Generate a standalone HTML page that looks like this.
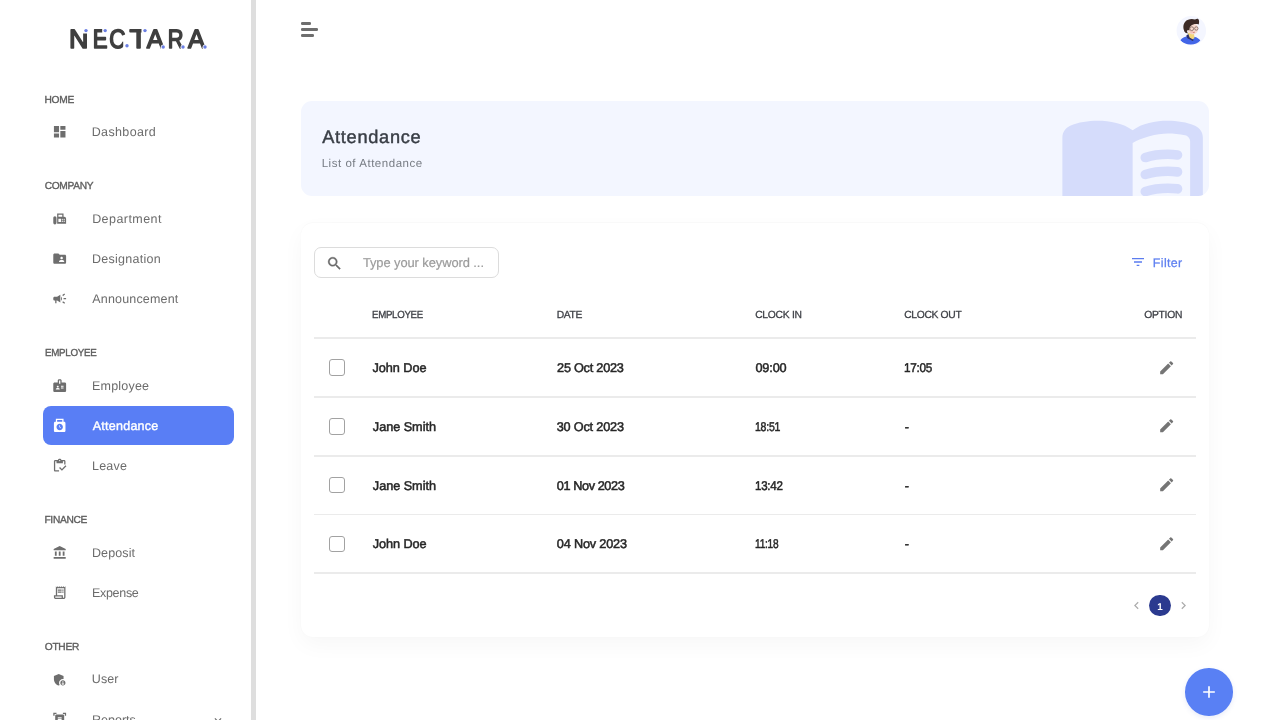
<!DOCTYPE html>
<html lang="en">
<head>
<meta charset="utf-8">
<title>Nectara - Attendance</title>
<style>
*{box-sizing:border-box;margin:0;padding:0}
html,body{width:1280px;height:720px;overflow:hidden;background:#fff;font-family:"Liberation Sans",sans-serif;color:#2a2a2a;text-rendering:geometricPrecision}
svg{display:block}
#wrap{position:absolute;left:0;top:0;width:1280px;height:720px;will-change:transform}
/* ---------- sidebar ---------- */
#sidebar{position:absolute;left:0;top:0;width:251px;height:720px;background:#fff;overflow:hidden}
#sbtrack{position:absolute;left:251px;top:0;width:5px;height:720px;background:#dedede}
#logo{position:absolute;left:66px;top:22px;width:146px;height:34px}
.cap{position:absolute;left:45px;margin-top:2px;transform-origin:0 50%;font-size:10.2px;font-weight:400;color:#5e5e5e;-webkit-text-stroke:.35px #5e5e5e;letter-spacing:0;line-height:12px;text-transform:uppercase;white-space:nowrap}
.nav{position:absolute;left:43px;width:191px;height:39px;border-radius:8px;color:#6c6c6c;font-size:12.5px;line-height:39px;white-space:nowrap}
.nav svg{position:absolute;left:8.8px;top:12.4px;width:15.4px;height:15.4px;fill:#6e6e6e}
.nav span{position:absolute;transform-origin:0 50%;left:49px;top:1.1px;letter-spacing:0}
.nav.on{background:#597ef5;color:#fff}
.nav.on span{-webkit-text-stroke:.4px #fff}
.nav.on svg{fill:#fff}
/* ---------- main ---------- */
#burger i{position:absolute;left:301px;height:2.6px;border-radius:1.3px;background:#6e6e6e}
#avatar{position:absolute;left:1176px;top:16px;width:31px;height:31px}
#banner{position:absolute;left:301px;top:101px;width:908px;height:95px;border-radius:11px;background:#f3f6ff;overflow:hidden}
#banner h1{position:absolute;left:21px;top:24.3px;font-size:18.2px;font-weight:400;color:#393e46;-webkit-text-stroke:.45px #393e46;line-height:24px;white-space:nowrap}
#banner p{position:absolute;left:21px;top:54.9px;font-size:11.5px;color:#777c84;line-height:16px;white-space:nowrap}
#book{position:absolute;left:755.1px;top:-8.9px;width:153.3px;height:153.3px;fill:#d5dcfb}
#card{position:absolute;left:301px;top:223px;width:908px;height:414px;border-radius:12px;background:#fff;box-shadow:0 -1px 2px rgba(0,0,0,.025),0 0 2px rgba(0,0,0,.04),0 8px 22px rgba(0,0,0,.035)}
#search{position:absolute;left:13px;top:24px;width:185px;height:31px;border:1px solid #dcdcdc;border-radius:7px}
#search svg{position:absolute;left:11px;top:6.5px;width:17px;height:17px;fill:#6a6a6a;stroke:#6a6a6a;stroke-width:.5px}
#search span{position:absolute;left:47px;top:0;line-height:29px;font-size:12.9px;color:#9b9b9b;-webkit-text-stroke:.2px #9b9b9b;white-space:nowrap}
#filter{position:absolute;left:828px;top:32px;height:17px;white-space:nowrap}
#filter svg{position:absolute;left:.8px;top:-.6px;width:16px;height:16px;fill:#5b7cef}
#filter span{position:absolute;left:24px;top:0;font-size:12.4px;font-weight:400;color:#5f80f0;-webkit-text-stroke:.25px #5f80f0;line-height:17px}
.th{position:absolute;transform-origin:0 50%;top:86.5px;font-size:10.3px;font-weight:400;color:#3f4147;-webkit-text-stroke:.3px #3f4147;line-height:12px;letter-spacing:0;white-space:nowrap}
.hr{position:absolute;left:13px;width:882px;height:1.8px;background:#ebebeb}
.td{position:absolute;transform-origin:0 50%;font-size:12.7px;font-weight:400;color:#272727;-webkit-text-stroke:.5px #272727;line-height:16px;letter-spacing:0;white-space:nowrap}
.cb{position:absolute;left:28px;width:16px;height:16.6px;border:1px solid #a2a2a2;border-radius:3px;background:#fff}
.pen{position:absolute;left:857.2px;width:17.4px;height:17.4px;fill:#757575}
#pg1{position:absolute;left:848.2px;top:371.600px;width:21.8px;height:21.8px;border-radius:50%;background:#2b3a8f;color:#fff;font-size:9.8px;font-weight:700;line-height:25.2px;text-align:center;overflow:hidden}
.chev{position:absolute;top:374.8px;width:15px;height:15px;fill:#adadad}
#fab{position:absolute;left:1185.2px;top:668.400px;width:47.5px;height:47.5px;border-radius:50%;background:#5980f4;box-shadow:0 2px 5px rgba(70,100,200,.12)}
#fab svg{position:absolute;left:13.75px;top:13.75px;width:20px;height:20px;fill:#fff}
/*FIT*/
#n_dashboard{letter-spacing:0.373px;margin-left:-0.34px}
#n_department{letter-spacing:0.437px;margin-left:0.17px}
#n_designation{letter-spacing:0.265px;margin-left:0.00px}
#n_announcement{letter-spacing:0.161px;margin-left:0.37px}
#n_employee{letter-spacing:0.202px;margin-left:0.00px}
#n_attendance{letter-spacing:0.250px;margin-left:0.75px}
#n_leave{letter-spacing:0.204px;margin-left:0.00px}
#n_deposit{letter-spacing:0.117px;margin-left:-0.04px}
#n_expense{letter-spacing:-0.306px;margin-left:-0.04px}
#n_user{letter-spacing:0.058px;margin-left:-0.20px}
#c_home{letter-spacing:-0.268px;margin-left:-0.51px}
#c_company{letter-spacing:-0.314px;margin-left:-0.35px}
#c_employee{letter-spacing:-0.300px;margin-left:-0.38px;transform:scaleX(0.9586)}
#c_finance{letter-spacing:-0.305px;margin-left:-0.56px}
#c_other{letter-spacing:-0.235px;margin-left:-0.32px}
#h_emp{letter-spacing:-0.300px;margin-left:0.22px;transform:scaleX(0.9391)}
#h_date{letter-spacing:-0.281px;margin-left:-0.38px}
#h_in{letter-spacing:-0.257px;margin-left:0.20px}
#h_out{letter-spacing:-0.319px;margin-left:-0.33px}
#h_opt{letter-spacing:-0.247px;margin-left:0.13px}
#d1{letter-spacing:-0.029px;margin-left:0.39px}
#d2{letter-spacing:-0.236px;margin-left:0.07px}
#d3{letter-spacing:-0.133px;margin-left:0.41px}
#d4{letter-spacing:-0.300px;margin-left:-0.10px;transform:scaleX(0.9256)}
#d5{letter-spacing:-0.042px;margin-left:0.87px}
#d6{letter-spacing:-0.175px;margin-left:-0.37px}
#d7{letter-spacing:-0.300px;margin-left:-0.50px;transform:scaleX(0.8303)}
#d8{letter-spacing:0.000px;margin-left:0.19px}
#d9{letter-spacing:-0.042px;margin-left:0.87px}
#d10{letter-spacing:-0.400px;margin-left:-0.22px}
#d11{letter-spacing:-0.300px;margin-left:-0.00px;transform:scaleX(0.9109)}
#d12{letter-spacing:0.000px;margin-left:0.19px}
#d13{letter-spacing:-0.081px;margin-left:0.87px}
#d14{letter-spacing:-0.175px;margin-left:-0.22px}
#d15{letter-spacing:-0.300px;margin-left:-0.37px;transform:scaleX(0.7976)}
#d16{letter-spacing:0.000px;margin-left:0.19px}
#t_title{letter-spacing:0.707px;margin-left:0.25px}
#t_sub{letter-spacing:0.535px;margin-left:-0.33px}
#t_ph{letter-spacing:-0.071px;margin-left:0.88px}
#t_filter{letter-spacing:0.383px;margin-left:-0.21px}
/*ENDFIT*/
</style>
</head>
<body>
<div id="wrap">
<!-- ================= SIDEBAR ================= -->
<div id="sidebar">
  <svg id="logo" viewBox="66 22 146 34" role="img" aria-label="NECTARA"><title>NECTARA</title>
    <text y="47.9" font-family="Liberation Sans, sans-serif" font-size="26.6" fill="#3f3f3f" stroke="#3f3f3f" stroke-width="1.600" stroke-linejoin="round"><tspan x="69" textLength="19.4" lengthAdjust="spacingAndGlyphs">N</tspan><tspan x="92.7" textLength="14.8" lengthAdjust="spacingAndGlyphs">E</tspan><tspan x="109.2" textLength="16.2" lengthAdjust="spacingAndGlyphs">C</tspan><tspan x="129.4" textLength="18.2" lengthAdjust="spacingAndGlyphs">T</tspan><tspan x="146.7" textLength="17" lengthAdjust="spacingAndGlyphs">A</tspan><tspan x="167.7" textLength="15.8" lengthAdjust="spacingAndGlyphs">R</tspan><tspan x="188" textLength="17" lengthAdjust="spacingAndGlyphs">A</tspan></text>
    <g fill="#fff"><rect x="83" y="27" width="6" height="6.5"/><rect x="102.2" y="27" width="6" height="6"/><rect x="123.200" y="41.500" width="5.5" height="8"/><rect x="141.500" y="27" width="7" height="6"/><circle cx="163.600" cy="47.300" r="2.900"/><circle cx="183.400" cy="47.300" r="2.900"/><circle cx="205.400" cy="47.300" r="2.900"/></g>
    <g fill="#6b7fe3"><circle cx="86" cy="30.6" r="1.700"/><circle cx="105.2" cy="30.6" r="1.700"/><circle cx="127" cy="45.8" r="1.700"/><circle cx="145" cy="30.6" r="1.700"/><circle cx="163.2" cy="47" r="1.700"/><circle cx="183" cy="47" r="1.700"/><circle cx="205" cy="47" r="1.700"/></g>
  </svg>
  <div class="cap" id="c_home" style="top:93.0px">HOME</div>
  <div class="cap" id="c_company" style="top:179.0px">COMPANY</div>
  <div class="cap" id="c_employee" style="top:346.0px">EMPLOYEE</div>
  <div class="cap" id="c_finance" style="top:513.0px">FINANCE</div>
  <div class="cap" id="c_other" style="top:640.0px">OTHER</div>
  <div class="nav" style="top:112.0px"><svg viewBox="0 0 24 24"><path d="M3 13h8V3H3v10zm0 8h8v-6H3v6zm10 0h8V11h-8v10zm0-18v6h8V3h-8z"/></svg><span id="n_dashboard">Dashboard</span></div>
  <div class="nav" style="top:198.5px"><svg viewBox="0 0 24 24"><path d="M19 9h-1V4H8v16h14v-8c0-1.660-1.340-3-3-3m-9-3h6v3h-6zm4 11h-4v-5h4zm2 0c-.550 0-1-.450-1-1s.450-1 1-1 1 .450 1 1-.450 1-1 1m0-3c-.550 0-1-.450-1-1s.450-1 1-1 1 .450 1 1-.450 1-1 1m3 3c-.550 0-1-.450-1-1s.450-1 1-1 1 .450 1 1-.450 1-1 1m0-3c-.550 0-1-.450-1-1s.450-1 1-1 1 .450 1 1-.450 1-1 1M4.500 8A2.500 2.500 0 0 0 2 10.500v8a2.500 2.500 0 0 0 5 0v-8A2.500 2.500 0 0 0 4.500 8"/></svg><span id="n_department">Department</span></div>
  <div class="nav" style="top:238.8px"><svg viewBox="0 0 24 24"><path d="M20 6h-8l-2-2H4c-1.100 0-1.990.9-1.990 2L2 18c0 1.100.9 2 2 2h16c1.100 0 2-.9 2-2V8c0-1.100-.9-2-2-2zm-5 3c1.100 0 2 .9 2 2s-.9 2-2 2-2-.9-2-2 .9-2 2-2zm4 8h-8v-1c0-1.330 2.670-2 4-2s4 .670 4 2v1z"/></svg><span id="n_designation">Designation</span></div>
  <div class="nav" style="top:279.1px"><svg viewBox="0 0 24 24"><path d="M18 11v2h4v-2h-4zm-2 6.610c.960.710 2.210 1.650 3.200 2.390.400-.530.800-1.070 1.200-1.600-.990-.740-2.240-1.680-3.200-2.400-.400.540-.800 1.080-1.200 1.610zM20.400 5.600c-.400-.530-.800-1.070-1.200-1.600-.990.740-2.240 1.680-3.200 2.400.400.530.800 1.070 1.200 1.600.960-.720 2.210-1.650 3.200-2.400zM4 9c-1.100 0-2 .9-2 2v2c0 1.100.9 2 2 2h1v4h2v-4h1l5 3V6L8 9H4zm11.500 3c0-1.330-.580-2.530-1.500-3.350v6.690c.920-.810 1.500-2.010 1.500-3.340z"/></svg><span id="n_announcement">Announcement</span></div>
  <div class="nav" style="top:365.5px"><svg viewBox="0 0 24 24"><path d="M20 7h-5V4c0-1.100-.9-2-2-2h-2c-1.100 0-2 .9-2 2v3H4c-1.100 0-2 .9-2 2v11c0 1.100.9 2 2 2h16c1.100 0 2-.9 2-2V9c0-1.100-.9-2-2-2zM9 12c.830 0 1.500.670 1.500 1.500S9.830 15 9 15s-1.500-.670-1.500-1.500S8.170 12 9 12zm3 6H6v-.750c0-1 2-1.500 3-1.500s3 .5 3 1.500V18zm1-9h-2V4h2v5zm5 7.500h-4V15h4v1.500zm0-3h-4V12h4v1.500z"/></svg><span id="n_employee">Employee</span></div>
  <div class="nav on" style="top:405.8px"><svg viewBox="0 0 24 24"><path d="M19 6h-1V1H6v5H5c-1.100 0-2 .9-2 2v12c0 1.100.9 2 2 2h14c1.100 0 2-.9 2-2V8c0-1.100-.9-2-2-2zM8 3h8v3H8V3zm4 16c-2.760 0-5-2.240-5-5s2.240-5 5-5 5 2.240 5 5-2.240 5-5 5z"/><path d="M12.500 11.500h-1v2.710l1.640 1.640.710-.710-1.350-1.350z"/></svg><span id="n_attendance">Attendance</span></div>
  <div class="nav" style="top:446.1px"><svg viewBox="0 0 24 24"><path d="M5 5h2v3h10V5h2v5h2V5c0-1.100-.9-2-2-2h-4.180C14.400 1.840 13.300 1 12 1s-2.400.840-2.820 2H5c-1.100 0-2 .9-2 2v14c0 1.100.9 2 2 2h6v-2H5V5zm7-2c.550 0 1 .450 1 1s-.450 1-1 1-1-.450-1-1 .450-1 1-1z"/><path d="M21 11.500l-5.510 5.520-2.990-3.020-1.500 1.500 4.490 4.500 7.010-7z"/></svg><span id="n_leave">Leave</span></div>
  <div class="nav" style="top:532.5px"><svg viewBox="0 0 24 24" style="transform:scale(.94)"><path d="M4 10h3v7H4zM10.500 10h3v7h-3zM2 19h20v3H2zM17 10h3v7h-3zM12 1L2 6v2h20V6z"/></svg><span id="n_deposit">Deposit</span></div>
  <div class="nav" style="top:572.8px"><svg viewBox="0 0 24 24"><path d="M19.500 3.500L18 2l-1.500 1.500L15 2l-1.500 1.500L12 2l-1.500 1.500L9 2 7.500 3.500 6 2v14H3v3c0 1.660 1.340 3 3 3h12c1.660 0 3-1.340 3-3V2l-1.500 1.500zM15 20H6c-.550 0-1-.450-1-1v-1h10v2zm4-1c0 .550-.450 1-1 1s-1-.450-1-1v-3H8V5h11v14z"/><path d="M9 7h6v2H9zM16 7h2v2h-2zM9 10h6v2H9zM16 10h2v2h-2z"/></svg><span id="n_expense">Expense</span></div>
  <div class="nav" style="top:659.5px"><svg viewBox="0 0 24 24"><path d="M17 11c.340 0 .670.040 1 .090V6.270L10.500 3 3 6.270v4.910c0 4.540 3.200 8.790 7.500 9.820.550-.130 1.080-.320 1.600-.550-.690-.980-1.100-2.170-1.100-3.450 0-3.310 2.690-6 6-6z"/><path d="M17 13c-2.210 0-4 1.790-4 4s1.790 4 4 4 4-1.790 4-4-1.790-4-4-4zm0 1.380c.620 0 1.120.510 1.120 1.120s-.510 1.120-1.120 1.120-1.120-.510-1.120-1.120.500-1.120 1.120-1.120zm0 5.370c-.930 0-1.740-.460-2.240-1.170.050-.720 1.510-1.080 2.240-1.080s2.190.360 2.240 1.080c-.500.710-1.310 1.170-2.240 1.170z"/></svg><span id="n_user" style="top:.4px">User</span></div>
  <div class="nav" style="top:699.8px"><svg viewBox="0 0 24 24"><path fill-rule="evenodd" d="M7 3H4v3H2V1h5v2zm15 3V1h-5v2h3v3h2zM7 21H4v-3H2v5h5v-2zm13-3v3h-3v2h5v-5h-2zM19 18c0 1.100-.9 2-2 2H7c-1.100 0-2-.9-2-2V6c0-1.100.9-2 2-2h10c1.100 0 2 .9 2 2v12zM15 8H9v2h6V8zm0 3H9v2h6v-2zm0 3H9v2h6v-2z"/></svg><span id="n_reports">Reports</span><svg class="dd" viewBox="0 0 24 24" style="left:167.5px;width:14px;height:14px;top:13.3px"><path d="M7.41 8.58 12 13.170l4.590-4.590L18 10l-6 6-6-6z"/></svg></div>
</div>
<div id="sbtrack"></div>

<!-- ================= MAIN ================= -->
<div id="burger"><i style="top:22.3px;width:10px"></i><i style="top:28.3px;width:16.5px"></i><i style="top:34.3px;width:13px"></i></div>

<svg id="avatar" viewBox="0 0 31 31">
  <defs><clipPath id="avc"><circle cx="15.300" cy="14.700" r="14.700"/></clipPath></defs>
  <circle cx="15.300" cy="14.700" r="14.700" fill="#f4f6ff"/>
  <g clip-path="url(#avc)">
    <path d="M4.300 24.200C6.500 21.200 10 19.900 14 20.200c4.500.2 8.500 1.300 10.300 4.300-2.300 2.800-5.800 4.100-9.800 4-4.200-.1-8-1.700-10.200-4.300z" fill="#4265e7"/>
    <path d="M12 16.800l6 .6.500 4.700-3 2.100-3.300-2.600z" fill="#f3d67a"/>
    <path d="M10.200 19.700l2.100-1.700 1.300 3.500 4.200 2.500-1.100 1-5.300-2.700z" fill="#2b2f6b"/>
    <ellipse cx="16.700" cy="12.700" rx="5.500" ry="5.700" fill="#f6d9ce"/>
    <circle cx="15.400" cy="16" r="1.400" fill="#f3b3aa" opacity=".55"/>
    <path d="M9.200 16.600C7 13.500 6.600 9 9 6c2.500-3 7-3.400 10-2.400 1.300-.8 2.600-1 3.300-.6 1.100 1.600 1 4 .3 5.600-2.600-1-5.600-.4-7.600 1.200-1.400 1.200-1.800 3-1.600 4.800-.8-.8-1.800-.8-2.200-.1-.4.800.1 2.100 1 2.700-1.200.2-2.300 0-3-.6z" fill="#3b2a26"/>
    <circle cx="15.700" cy="12.700" r="1.900" fill="none" stroke="#5a4640" stroke-width=".6"/>
    <circle cx="20.300" cy="12.500" r="1.700" fill="none" stroke="#5a4640" stroke-width=".6"/>
    <path d="M16.800 16.100c.7.500 1.500.5 2-.1" stroke="#c2524b" stroke-width=".8" fill="none"/>
  </g>
</svg>
<div id="banner">
  <h1 id="t_title">Attendance</h1>
  <p id="t_sub">List of Attendance</p>
  <svg id="book" viewBox="0 0 24 24"><path d="M17.500 4.500c-1.950 0-4.050.400-5.500 1.500-1.450-1.100-3.550-1.500-5.500-1.500-1.450 0-2.990.220-4.280.790C1.490 5.620 1 6.330 1 7.140v11.280c0 1.300 1.220 2.260 2.480 1.940.980-.250 2.020-.360 3.020-.360 1.560 0 3.220.260 4.560.920.600.300 1.280.300 1.870 0 1.340-.670 3-.920 4.560-.920 1 0 2.040.110 3.020.360 1.260.330 2.480-.630 2.480-1.940V7.140c0-.810-.490-1.520-1.220-1.850-1.280-.570-2.820-.790-4.270-.790zM21 17.230c0 .630-.580 1.090-1.200.980-.750-.140-1.530-.200-2.300-.200-1.700 0-4.150.650-5.500 1.500V8c1.350-.850 3.800-1.500 5.500-1.500.920 0 1.830.090 2.700.280.460.100.800.510.800.980v9.470z"/><path d="M13.980 11.010c-.320 0-.610-.200-.710-.520-.130-.390.090-.820.480-.940 1.540-.500 3.530-.660 5.360-.450.410.050.710.420.660.830-.050.410-.420.710-.830.660-1.620-.190-3.390-.040-4.730.390-.080.010-.160.030-.230.030zM13.980 13.670c-.320 0-.610-.200-.710-.520-.130-.390.090-.820.480-.940 1.530-.500 3.530-.660 5.360-.450.410.050.710.420.660.830-.050.410-.420.710-.830.660-1.620-.190-3.390-.040-4.730.390-.080.020-.160.030-.230.030zM13.980 16.330c-.320 0-.610-.200-.710-.520-.130-.390.090-.820.480-.940 1.530-.500 3.530-.660 5.360-.450.410.050.710.420.660.830-.050.410-.420.710-.830.660-1.620-.190-3.390-.040-4.730.390-.080.020-.160.030-.230.030z"/></svg>
</div>

<div id="card">
  <div id="search"><svg viewBox="0 0 24 24"><path d="M15.500 14h-.790l-.280-.270C15.410 12.590 16 11.110 16 9.500 16 5.910 13.090 3 9.500 3S3 5.910 3 9.500 5.910 16 9.500 16c1.610 0 3.090-.590 4.230-1.570l.270.280v.790l5 4.990L20.490 19l-4.990-5zm-6 0C7.010 14 5 11.990 5 9.500S7.010 5 9.500 5 14 7.010 14 9.500 11.990 14 9.500 14z"/></svg><span id="t_ph">Type your keyword ...</span></div>
  <div id="filter"><svg viewBox="0 0 24 24"><path d="M10 18h4v-2h-4v2zM3 6v2h18V6H3zm3 7h12v-2H6v2z"/></svg><span id="t_filter">Filter</span></div>
  <div class="th" id="h_emp" style="left:71px">EMPLOYEE</div>
  <div class="th" id="h_date" style="left:256px">DATE</div>
  <div class="th" id="h_in" style="left:454px">CLOCK IN</div>
  <div class="th" id="h_out" style="left:603.5px">CLOCK OUT</div>
  <div class="th" id="h_opt" style="left:843px">OPTION</div>
  <div class="hr" style="top:114.25px"></div>
  <div class="hr" style="top:173.05px"></div>
  <div class="hr" style="top:231.85px"></div>
  <div class="hr" style="top:290.65px"></div>
  <div class="hr" style="top:349.45px"></div>
  <div class="cb" style="top:136.25px"></div>
  <div class="td" id="d1" style="left:71px;top:136.55px">John Doe</div>
  <div class="td" id="d2" style="left:256px;top:136.55px">25 Oct 2023</div>
  <div class="td" id="d3" style="left:454px;top:136.55px">09:00</div>
  <div class="td" id="d4" style="left:603.5px;top:136.55px">17:05</div>
  <svg class="pen" viewBox="0 0 24 24" style="top:135.65px"><path d="M3 17.250V21h3.750L17.810 9.940l-3.750-3.750L3 17.250zM20.710 7.040c.390-.390.390-1.020 0-1.410l-2.340-2.340c-.390-.390-1.020-.390-1.410 0l-1.830 1.830 3.750 3.750 1.830-1.830z"/></svg>
  <div class="cb" style="top:195.05px"></div>
  <div class="td" id="d5" style="left:71px;top:196.15px">Jane Smith</div>
  <div class="td" id="d6" style="left:256px;top:196.15px">30 Oct 2023</div>
  <div class="td" id="d7" style="left:454px;top:196.15px">18:51</div>
  <div class="td" id="d8" style="left:603.5px;top:196.15px">-</div>
  <svg class="pen" viewBox="0 0 24 24" style="top:194.45px"><path d="M3 17.250V21h3.750L17.810 9.940l-3.750-3.750L3 17.250zM20.710 7.040c.390-.390.390-1.020 0-1.410l-2.340-2.340c-.390-.390-1.020-.390-1.410 0l-1.830 1.830 3.750 3.750 1.830-1.830z"/></svg>
  <div class="cb" style="top:253.85px"></div>
  <div class="td" id="d9" style="left:71px;top:254.65px">Jane Smith</div>
  <div class="td" id="d10" style="left:256px;top:254.65px">01 Nov 2023</div>
  <div class="td" id="d11" style="left:454px;top:254.65px">13:42</div>
  <div class="td" id="d12" style="left:603.5px;top:254.65px">-</div>
  <svg class="pen" viewBox="0 0 24 24" style="top:253.25px"><path d="M3 17.250V21h3.750L17.810 9.940l-3.750-3.750L3 17.250zM20.710 7.040c.390-.390.390-1.020 0-1.410l-2.340-2.340c-.390-.390-1.020-.390-1.410 0l-1.830 1.830 3.750 3.750 1.830-1.830z"/></svg>
  <div class="cb" style="top:312.65px"></div>
  <div class="td" id="d13" style="left:71px;top:313.45px">John Doe</div>
  <div class="td" id="d14" style="left:256px;top:313.45px">04 Nov 2023</div>
  <div class="td" id="d15" style="left:454px;top:313.45px">11:18</div>
  <div class="td" id="d16" style="left:603.5px;top:313.45px">-</div>
  <svg class="pen" viewBox="0 0 24 24" style="top:312.05px"><path d="M3 17.250V21h3.750L17.810 9.940l-3.750-3.750L3 17.250zM20.710 7.040c.390-.390.390-1.020 0-1.410l-2.340-2.340c-.390-.390-1.020-.390-1.410 0l-1.830 1.830 3.750 3.750 1.830-1.830z"/></svg>
  <svg class="chev" style="left:828.1px" viewBox="0 0 24 24"><path d="M15.410 16.580 10.830 12l4.580-4.590L14 6l-6 6 6 6z"/></svg>
  <div id="pg1">1</div>
  <svg class="chev" style="left:875.4px" viewBox="0 0 24 24"><path d="M8.590 16.580 13.170 12 8.590 7.410 10 6l6 6-6 6z"/></svg>
</div>

<div id="fab"><svg viewBox="0 0 24 24"><path d="M19 13h-6v6h-2v-6H5v-2h6V5h2v6h6z"/></svg></div>
</div>
</body>
</html>
